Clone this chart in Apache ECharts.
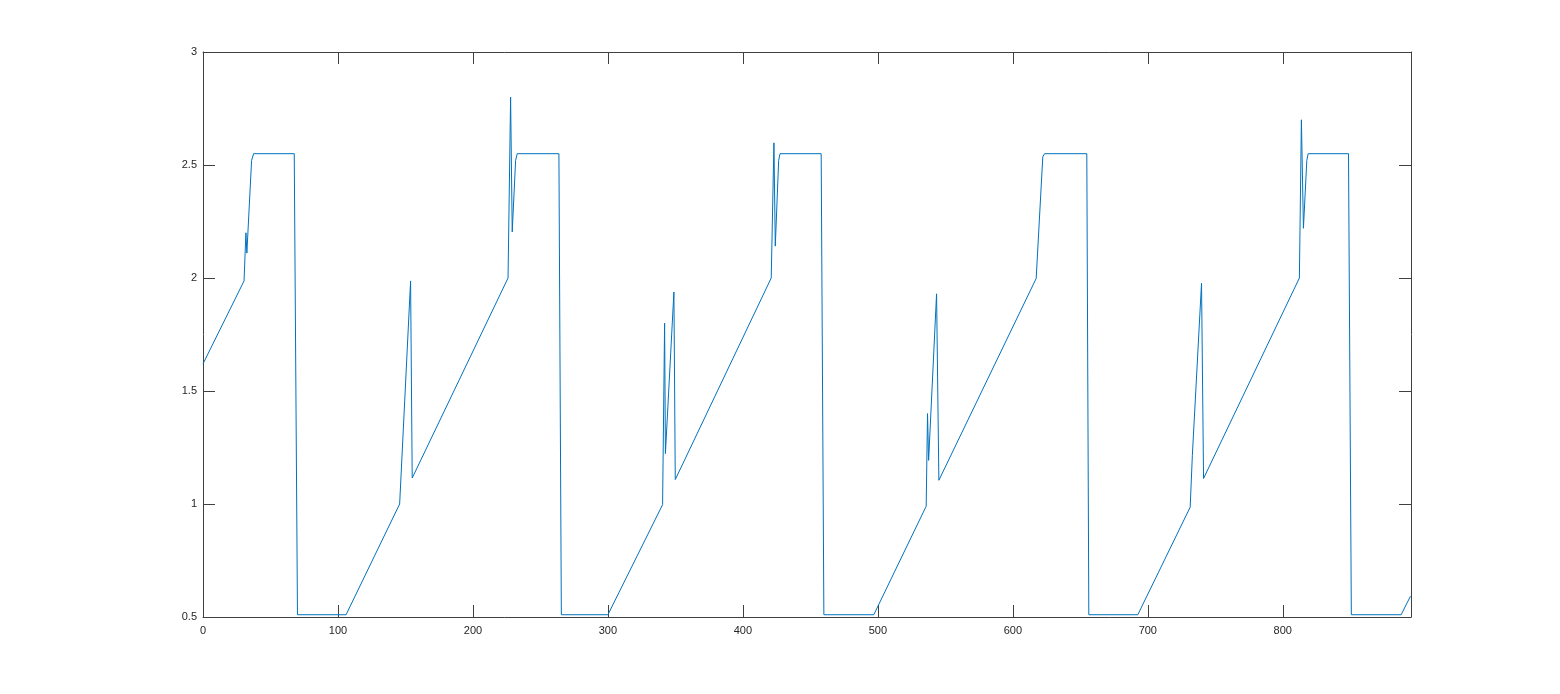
<!DOCTYPE html>
<html>
<head>
<meta charset="utf-8">
<script src="https://cdn.jsdelivr.net/npm/echarts@6/dist/echarts.min.js"></script>
<style>
html,body{margin:0;padding:0;background:#fff;}
#chart{width:1560px;height:694px;}
</style>
</head>
<body>
<div id="chart"></div>
<script>
// Polyline vertices
const xs = [0, 30.4, 31.8, 32.5, 36, 37.5, 67.6, 70, 106, 145.7, 153.8, 155, 226, 227.9, 229.1, 231.6, 232.8, 263.7, 265.5, 300, 340.5, 342, 342.6, 348.9, 349.9, 421, 423, 424, 426.5, 427.5, 458, 460, 497, 535.8, 536.8, 537.6, 543.5, 545.2, 617.3, 622.2, 623.5, 654.8, 656.3, 692.6, 731.4, 733, 739.8, 741.3, 812.3, 813.8, 815.3, 817.8, 818.8, 848.7, 850.8, 887.7, 894.6];
const ys = [1.62, 1.987, 2.20, 2.11, 2.52, 2.55, 2.55, 0.51, 0.51, 1.0, 1.987, 1.115, 2.0, 2.80, 2.204, 2.52, 2.55, 2.55, 0.51, 0.51, 0.997, 1.80, 1.223, 1.938, 1.108, 2.0, 2.598, 2.141, 2.52, 2.55, 2.55, 0.51, 0.51, 0.99, 1.40, 1.193, 1.93, 1.105, 1.998, 2.536, 2.55, 2.55, 0.51, 0.51, 0.986, 1.215, 1.977, 1.113, 2.0, 2.70, 2.22, 2.52, 2.55, 2.55, 0.51, 0.51, 0.592];
const xTicks = [0, 100, 200, 300, 400, 500, 600, 700, 800];
const yTicks = [0.5, 1, 1.5, 2, 2.5, 3];
const xMax = 895;

const pts = xs.map((x, i) => [x, ys[i]]);
const axisColor = '#404040';
const labelStyle = {color: '#262626', fontSize: 11, fontFamily: 'Liberation Sans, Arial, sans-serif'};

const chart = echarts.init(document.getElementById('chart'), null, {renderer: 'canvas'});
chart.setOption({
  animation: false,
  backgroundColor: '#ffffff',
  grid: {left: 203, right: 149, top: 52, bottom: 77, containLabel: false},
  xAxis: [
    {type: 'value', position: 'bottom', min: 0, max: xMax, interval: 100,
     axisLine: {show: true, onZero: false, lineStyle: {color: axisColor, width: 1}},
     axisTick: {show: true, inside: true, length: 12, lineStyle: {color: axisColor}},
     axisLabel: Object.assign({margin: 8, showMaxLabel: false,
       formatter: v => xTicks.includes(v) ? String(v) : ''}, labelStyle),
     splitLine: {show: false}},
    {type: 'value', position: 'top', min: 0, max: xMax, interval: 100,
     axisLine: {show: true, onZero: false, lineStyle: {color: axisColor, width: 1}},
     axisTick: {show: true, inside: true, length: 12, lineStyle: {color: axisColor}},
     axisLabel: {show: false}, splitLine: {show: false}}
  ],
  yAxis: [
    {type: 'value', position: 'left', min: 0.5, max: 3, interval: 0.5,
     axisLine: {show: true, onZero: false, lineStyle: {color: axisColor, width: 1}},
     axisTick: {show: true, inside: true, length: 12, lineStyle: {color: axisColor}},
     axisLabel: Object.assign({margin: 6,
       formatter: v => yTicks.includes(v) ? String(v) : ''}, labelStyle),
     splitLine: {show: false}},
    {type: 'value', position: 'right', min: 0.5, max: 3, interval: 0.5,
     axisLine: {show: true, onZero: false, lineStyle: {color: axisColor, width: 1}},
     axisTick: {show: true, inside: true, length: 12, lineStyle: {color: axisColor}},
     axisLabel: {show: false}, splitLine: {show: false}}
  ],
  series: [{
    type: 'line',
    xAxisIndex: 0, yAxisIndex: 0,
    data: pts,
    showSymbol: false,
    symbol: 'none',
    lineStyle: {color: '#0072BD', width: 1},
    clip: true
  }]
});
</script>
</body>
</html>
